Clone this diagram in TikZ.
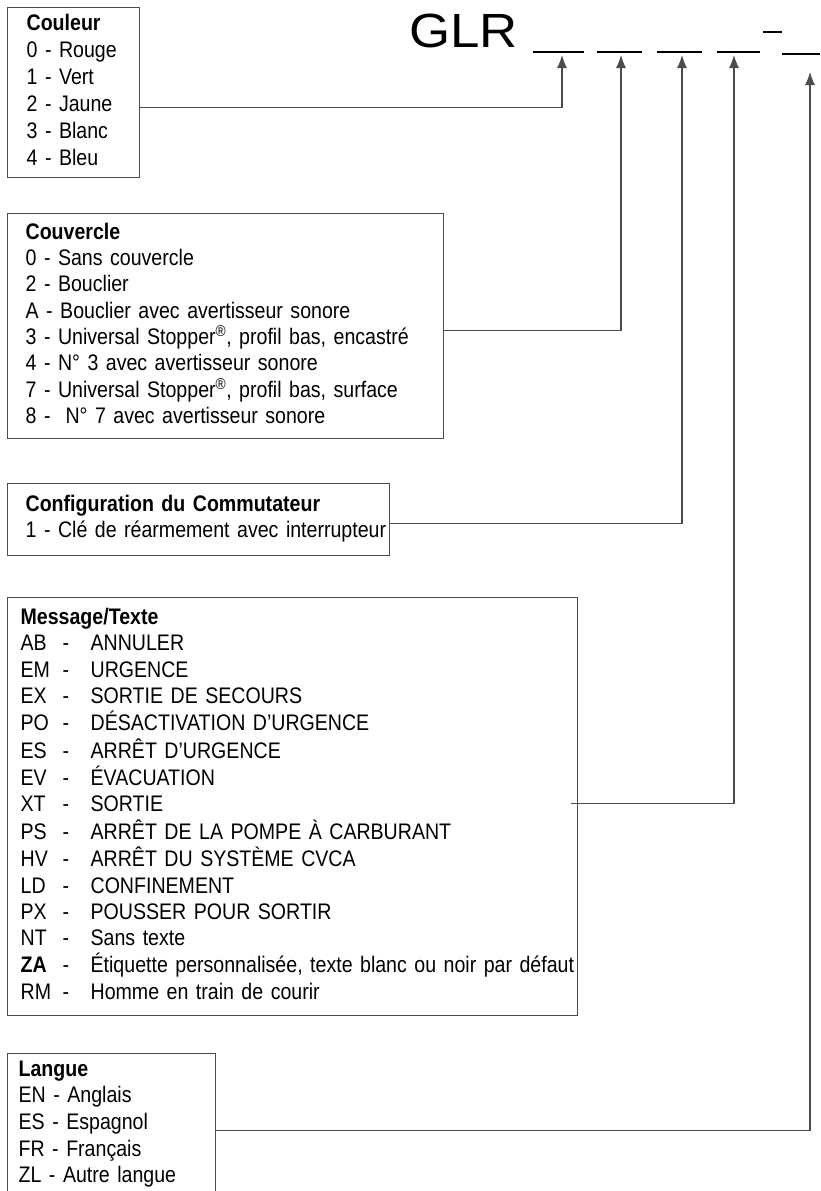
\documentclass[tikz,border=0pt]{standalone}
\usepackage{fontspec}
\setmainfont{Liberation Sans}[FakeStretch=0.87]
\newfontfamily\glrfont{Liberation Sans}[FakeStretch=1.1]
\usetikzlibrary{arrows.meta}
\definecolor{linegray}{gray}{0.3}
\newcommand{\msgrow}[2]{\makebox[42pt][l]{#1}\makebox[28pt][l]{-}#2}
\newcommand{\tightspace}{\spaceskip=5pt plus 1pt minus 1pt\relax}

\begin{document}
\begin{tikzpicture}[x=1pt,y=-1pt,>={Latex[length=13pt,width=10pt]},
    box/.style={draw=linegray, line width=1.3pt, anchor=north west, inner xsep=#1, inner ysep=0pt, font=\fontsize{22.5}{26.2}\selectfont\tightspace},
    box/.default=18pt,
    conn/.style={->, draw=linegray, line width=1.1pt},
    blank/.style={line width=2.6pt}]
  \useasboundingbox (0,0) rectangle (820,1191);
  \clip (0,0) rectangle (820,1191);
  \node[anchor=base west, inner sep=0pt, font=\glrfont\fontsize{48}{48}\selectfont] (glr) at (409,47) {GLR};
  \draw[blank] (533,52) -- (584,52);
  \draw[blank] (597,52) -- (642,52);
  \draw[blank] (657,52) -- (702,52);
  \draw[blank] (717,52) -- (760,52);
  \draw[blank] (763,32) -- (782,32);
  \draw[blank] (782,54) -- (820,54);
  \coordinate (t1) at (562,55);
  \coordinate (t2) at (621,55);
  \coordinate (t3) at (682,55);
  \coordinate (t4) at (734,55);
  \coordinate (t5) at (810,72);
  \node[box=19pt, minimum width=132pt, minimum height=170pt, text width=94pt, font=\fontsize{22.5}{27}\selectfont\tightspace] (couleur) at (7,7)
    {\begin{tabular}{@{}l@{}}\textbf{Couleur}\\0 - Rouge\\1 - Vert\\2 - Jaune\\3 - Blanc\\4 - Bleu\end{tabular}};
  \node[box, minimum width=436pt, minimum height=225pt, text width=400pt] (couvercle) at (7,213)
    {\begin{tabular}{@{}l@{}}\textbf{Couvercle}\\0 - Sans couvercle\\2 - Bouclier\\A - Bouclier avec avertisseur sonore\\
     3 - Universal Stopper\textsuperscript{®}, profil bas, encastré\\4 - N° 3 avec avertisseur sonore\\
     7 - Universal Stopper\textsuperscript{®}, profil bas, surface\\8 - \ N° 7 avec avertisseur sonore\end{tabular}};
  \node[box, minimum width=382pt, minimum height=72pt, text width=346pt] (config) at (7,483)
    {\begin{tabular}{@{}l@{}}\textbf{Configuration du Commutateur}\\1 - Clé de réarmement avec interrupteur\end{tabular}};
  \node[box=13pt, minimum width=570pt, minimum height=418pt, text width=544pt] (message) at (7,597)
    {\begin{tabular}{@{}l@{}}\textbf{Message/Texte}\\
     \msgrow{AB}{ANNULER}\\
     \msgrow{EM}{URGENCE}\\
     \msgrow{EX}{SORTIE DE SECOURS}\\
     \msgrow{PO}{DÉSACTIVATION D’URGENCE}\\
     \msgrow{ES}{ARRÊT D’URGENCE}\\
     \msgrow{EV}{ÉVACUATION}\\
     \msgrow{XT}{SORTIE}\\
     \msgrow{PS}{ARRÊT DE LA POMPE À CARBURANT}\\
     \msgrow{HV}{ARRÊT DU SYSTÈME CVCA}\\
     \msgrow{LD}{CONFINEMENT}\\
     \msgrow{PX}{POUSSER POUR SORTIR}\\
     \msgrow{NT}{Sans texte}\\
     \msgrow{\textbf{ZA}}{Étiquette personnalisée, texte blanc ou noir par défaut}\\
     \msgrow{RM}{Homme en train de courir}\end{tabular}};
  \node[box=11pt, minimum width=208pt, minimum height=141pt, text width=186pt, font=\fontsize{22.5}{26.7}\selectfont\tightspace] (langue) at (7,1053)
    {\begin{tabular}{@{}l@{}}\textbf{Langue}\\EN - Anglais\\ES - Espagnol\\FR - Français\\ZL - Autre langue\end{tabular}};
  \draw[conn] ([yshift=-15pt]couleur.east) -| (t1);
  \draw[conn] ([yshift=-4.5pt]couvercle.east) -| (t2);
  \draw[conn] ([yshift=-4pt]config.east) -| (t3);
  \draw[conn] ([xshift=-7pt,yshift=3pt]message.east) -| (t4);
  \draw[conn] ([yshift=-6.5pt]langue.east) -| (t5);
\end{tikzpicture}
\end{document}
